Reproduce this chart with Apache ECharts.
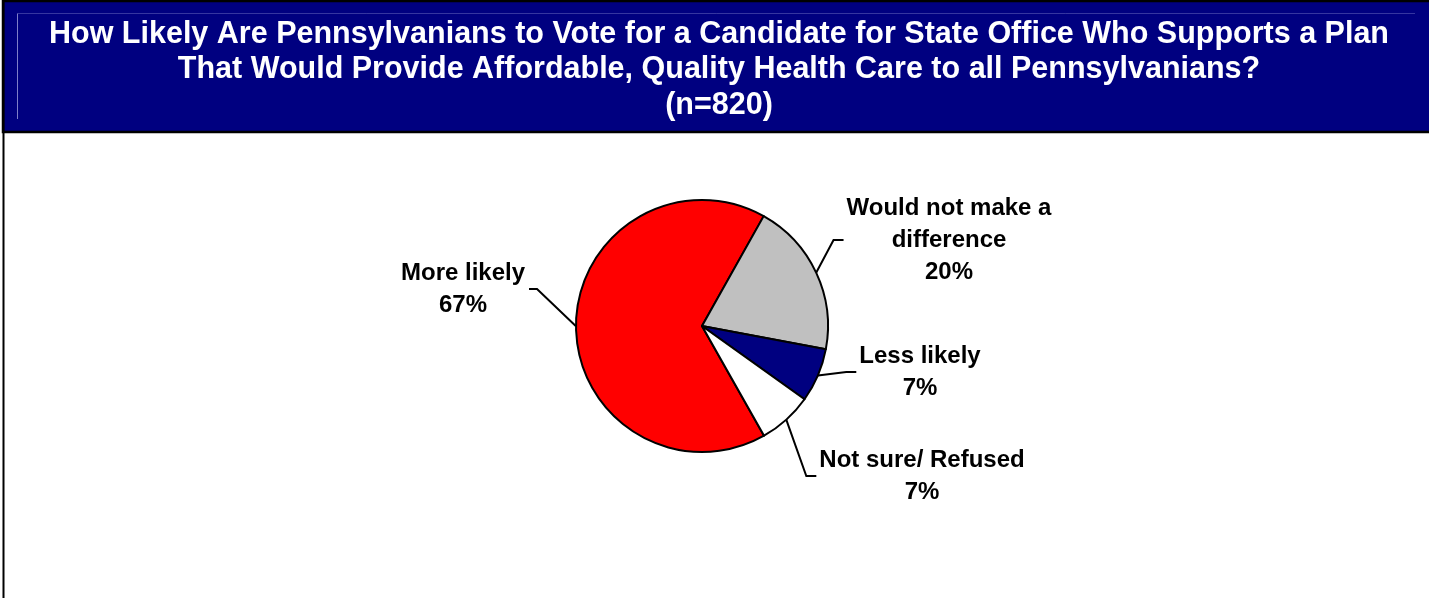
<!DOCTYPE html>
<html>
<head>
<meta charset="utf-8">
<script src="https://cdn.jsdelivr.net/npm/echarts@6/dist/echarts.min.js"></script>
<style>
  html, body { margin: 0; padding: 0; background: #ffffff; }
  #chart { width: 1429px; height: 598px; }
</style>
</head>
<body>
<div id="chart"></div>
<script>
// Survey answers, in drawing order (clockwise from the lower right)
const categories = ['More likely', 'Would not make a difference', 'Less likely', 'Not sure/ Refused'];
const labelTexts = ['More likely', 'Would not make a\ndifference', 'Less likely', 'Not sure/ Refused'];
const values = [67, 20, 7, 7];
const sliceColors = ['#FF0000', '#C0C0C0', '#000080', '#FFFFFF'];

const titleLines = [
  'How Likely Are Pennsylvanians to Vote for a Candidate for State Office Who Supports a Plan',
  'That Would Provide Affordable, Quality Health Care to all Pennsylvanians?',
  '(n=820)'
];

// Where each label block is centred, and on which side of the pie it sits
const labelCenters = [[463, 289], [949, 240], [920, 372], [922, 476]];
const labelSide = ['left', 'right', 'right', 'right'];

const FONT = '"Liberation Sans", Arial, Helvetica, sans-serif';

const chart = echarts.init(document.getElementById('chart'), null, { renderer: 'canvas' });

const pieData = categories.map((name, i) => ({
  name: name,
  value: values[i],
  itemStyle: { color: sliceColors[i] },
  label: { formatter: labelTexts[i] + '\n' + values[i] + '%' }
}));

chart.setOption({
  animation: false,
  backgroundColor: '#ffffff',
  graphic: [
    // title banner
    {
      type: 'rect', z: 0, silent: true,
      shape: { x: 3, y: 1, width: 1440, height: 131 },
      style: { fill: '#000080', stroke: '#000000', lineWidth: 2.5 }
    },
    // faint inner frame of the banner
    {
      type: 'polyline', z: 1, silent: true,
      shape: { points: [[17.5, 119], [17.5, 13.5]] },
      style: { stroke: 'rgba(170,170,225,0.75)', lineWidth: 1, fill: null }
    },
    {
      type: 'polyline', z: 1, silent: true,
      shape: { points: [[17.5, 13.5], [1415, 13.5]] },
      style: { stroke: 'rgba(120,120,200,0.45)', lineWidth: 1, fill: null }
    },
    // left page rule
    {
      type: 'line', z: 2, silent: true,
      shape: { x1: 3.5, y1: 0, x2: 3.5, y2: 598 },
      style: { stroke: '#000000', lineWidth: 2 }
    }
  ],
  title: {
    text: titleLines.join('\n'),
    left: 719,
    top: 16.5,
    textAlign: 'center',
    padding: 0,
    z: 5,
    textStyle: {
      color: '#ffffff',
      fontFamily: FONT,
      fontWeight: 'bold',
      fontSize: 30.5,
      lineHeight: 35.5
    }
  },
  series: [{
    type: 'pie',
    center: [702, 326],
    radius: 126,
    startAngle: -60.5,
    clockwise: true,
    avoidLabelOverlap: false,
    minShowLabelAngle: 0,
    emphasis: { disabled: true },
    data: pieData,
    itemStyle: { borderColor: '#000000', borderWidth: 2 },
    label: {
      show: true,
      position: 'outside',
      color: '#000000',
      fontFamily: FONT,
      fontWeight: 'bold',
      fontSize: 24,
      lineHeight: 32,
      align: 'center'
    },
    labelLine: {
      show: true,
      length: 10,
      length2: 10,
      smooth: false,
      lineStyle: { color: '#000000', width: 2 }
    },
    labelLayout: function (p) {
      const i = p.dataIndex;
      const cx = labelCenters[i][0];
      const cy = labelCenters[i][1];
      const w = p.labelRect.width;
      const left = labelSide[i] === 'left';
      const endX = left ? cx + w / 2 + 4 : cx - w / 2 - 3;
      const elbowX = left ? endX + 8 : endX - 10;
      const out = { x: cx, y: cy, align: 'center', verticalAlign: 'middle' };
      if (p.labelLinePoints && p.labelLinePoints.length) {
        out.labelLinePoints = [p.labelLinePoints[0], [elbowX, cy], [endX, cy]];
      }
      return out;
    }
  }]
});
</script>
</body>
</html>
